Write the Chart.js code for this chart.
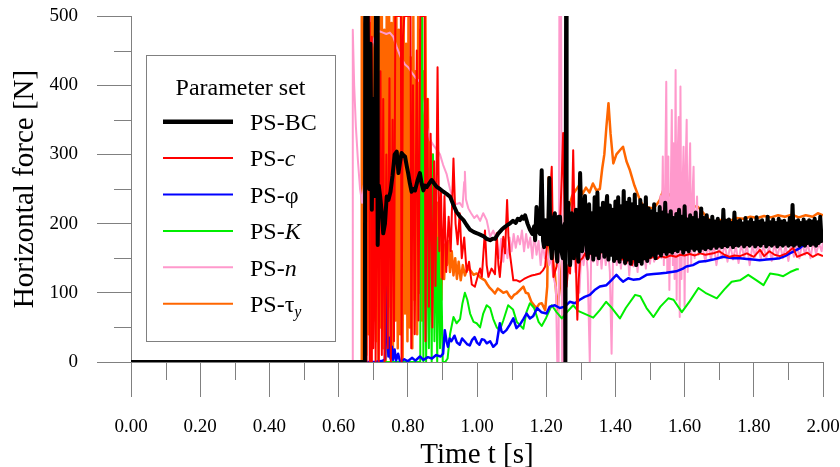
<!DOCTYPE html>
<html>
<head>
<meta charset="utf-8">
<title>Horizontal force</title>
<script src="https://cdn.jsdelivr.net/npm/chart.js@4"></script>
<style>
  html, body { margin: 0; padding: 0; background: #fff; }
  canvas { display: block; }
</style>
</head>
<body>
<canvas id="forceChart" width="840" height="467"></canvas>
<script>
// Series names and colours
const seriesNames = ['PS-BC', 'PS-c', 'PS-φ', 'PS-K', 'PS-n', 'PS-τy'];
const seriesColors = ['#000000', '#ff0000', '#0000ff', '#00ee00', '#ff99cc', '#ff6600'];
const legendTitle = 'Parameter set';

// Axis ticks
const xTicks = [0, 0.2, 0.4, 0.6, 0.8, 1.0, 1.2, 1.4, 1.6, 1.8, 2.0];
const xMinorTicks = [0.1, 0.3, 0.5, 0.7, 0.9, 1.1, 1.3, 1.5, 1.7, 1.9];
const yTicks = [0, 100, 200, 300, 400, 500];
const yMinorTicks = [50, 150, 250, 350, 450];

// [time s, force N]
const psBC = [
  [0,0],[0.676,0],[0.677,500],[0.684,500],[0.688,250],[0.692,460],[0.696,220],[0.700,380],[0.704,240],[0.708,500],[0.711,500],[0.713,169],
  [0.716,255],[0.720,240],[0.725,215],[0.729,186],[0.734,200],[0.739,239],[0.744,234],[0.750,246],[0.756,270],[0.762,300],[0.768,304],
  [0.773,273],[0.778,290],[0.782,302],[0.787,299],[0.792,297],[0.797,283],[0.801,273],[0.806,258],[0.811,246],[0.816,250],[0.821,248],
  [0.828,262],[0.835,273],[0.840,258],[0.845,248],[0.850,255],[0.855,253],[0.862,258],[0.869,263],[0.876,258],[0.884,253],[0.893,250],
  [0.903,246],[0.912,243],[0.922,239],[0.931,228],[0.941,217],[0.951,210],[0.961,205],[0.970,198],[0.980,191],[0.990,188],[1.000,186],
  [1.009,184],[1.018,182],[1.028,178],[1.038,176],[1.045,178],[1.052,178],[1.062,186],[1.071,191],[1.080,195],[1.088,198],[1.095,200],
  [1.104,204],[1.112,201],[1.118,207],[1.124,205],[1.130,210],[1.134,207],[1.139,212],[1.146,200],[1.153,191],[1.160,185],[1.165,196],
  [1.168,176],[1.172,224],[1.176,190],[1.182,185],[1.187,277],[1.191,175],[1.194,166],[1.198,205],[1.201,200],[1.205,170],[1.209,266],
  [1.212,180],[1.216,150],[1.220,205],[1.225,215],[1.228,165],[1.232,145],[1.236,210],[1.240,210],[1.244,160],[1.248,150],[1.251,195],
  [1.254,200],[1.2555,0],[1.2575,500],[1.259,210],[1.264,230],[1.269,140],[1.274,215],[1.280,150],[1.286,220],[1.290,165],[1.293,145],
  [1.298,273],[1.304,160],[1.308,210],[1.312,240],[1.316,170],
  [1.320,150],[1.324,228],[1.328,158],[1.332,215],[1.336,148],[1.340,238],[1.344,155],[1.348,245],[1.352,150],[1.356,222],[1.360,160],
  [1.364,230],[1.368,152],[1.372,218],[1.376,240],[1.380,148],[1.384,226],[1.388,155],[1.392,220],[1.396,146],[1.400,232],[1.404,150],
  [1.408,238],[1.412,145],[1.416,225],[1.420,152],[1.424,247],[1.428,143],[1.432,230],[1.436,148],[1.440,236],[1.444,142],[1.448,228],
  [1.452,150],[1.456,242],[1.460,140],[1.464,224],[1.468,146],[1.472,234],[1.476,142],[1.480,226],[1.484,150],[1.488,238],[1.492,146],
  [1.496,222],[1.500,152],[1.504,218],[1.508,155],[1.512,228],[1.516,150],[1.520,214],[1.524,158],[1.528,224],[1.532,154],[1.536,216],
  [1.540,160],[1.544,230],[1.548,156],[1.552,212],[1.556,160],[1.560,218],[1.564,158],[1.568,208],[1.572,162],[1.576,214],[1.580,160],
  [1.584,220],[1.588,164],[1.592,210],[1.596,158],[1.600,225],[1.604,163],[1.608,206],[1.612,160],[1.616,212],[1.620,165],[1.624,208],
  [1.628,162],[1.632,216],[1.636,164],[1.640,205],[1.644,160],[1.648,222],[1.652,165],[1.656,208],[1.660,163],[1.664,212],[1.668,166],
  [1.672,204],[1.676,164],[1.680,210],[1.684,168],[1.688,203],[1.692,165],[1.696,207],[1.700,168],[1.704,202],[1.708,166],[1.712,220],
  [1.716,169],[1.720,204],[1.724,167],[1.728,206],[1.732,170],[1.736,201],[1.740,166],[1.744,216],[1.748,169],[1.752,203],[1.756,168],
  [1.760,205],[1.764,171],[1.768,200],[1.772,167],[1.776,208],[1.780,170],[1.784,202],[1.788,168],[1.792,206],[1.796,171],[1.800,201],
  [1.804,167],[1.808,209],[1.812,170],[1.816,203],[1.820,168],[1.824,205],[1.828,172],[1.832,200],[1.836,167],[1.840,210],[1.844,170],
  [1.848,202],[1.852,168],[1.856,206],[1.860,171],[1.864,201],[1.868,167],[1.872,207],[1.876,170],[1.880,203],[1.884,168],[1.888,204],
  [1.892,171],[1.896,200],[1.900,168],[1.904,208],[1.908,170],[1.912,227],[1.916,168],[1.920,203],[1.924,171],[1.928,205],[1.932,168],
  [1.936,201],[1.940,170],[1.944,206],[1.948,168],[1.952,202],[1.956,172],[1.960,205],[1.964,169],[1.968,203],[1.972,171],[1.976,207],
  [1.980,168],[1.984,202],[1.988,172],[1.992,210],[1.996,175],[2.000,188]
];

const psC = [
  [0,0],[0.680,0],[0.681,500],[0.688,500],[0.690,0],[0.694,0],[0.696,470],[0.700,20],[0.704,330],[0.707,0],[0.712,390],[0.716,0],
  [0.721,420],[0.725,10],[0.729,380],[0.733,0],[0.738,300],[0.742,20],[0.747,410],[0.751,0],[0.756,350],[0.760,30],[0.764,500],
  [0.780,500],[0.782,0],[0.786,470],[0.790,500],[0.808,500],[0.810,20],[0.815,400],[0.820,40],[0.826,450],[0.831,60],[0.836,500],
  [0.849,500],[0.851,30],[0.856,380],[0.861,80],[0.866,330],[0.871,50],[0.876,290],[0.880,110],[0.886,426],[0.891,160],[0.896,250],
  [0.900,120],[0.906,240],[0.911,130],[0.918,210],[0.924,160],[0.932,294],[0.938,200],[0.944,170],[0.950,215],[0.956,150],[0.963,180],
  [0.970,130],[0.977,145],[0.985,112],[0.994,109],[1.000,120],[1.009,135],[1.014,123],[1.023,190],[1.028,140],[1.033,123],[1.042,135],
  [1.052,127],[1.057,186],[1.062,140],[1.066,123],[1.072,160],[1.076,181],[1.081,157],[1.087,234],[1.091,180],[1.095,157],[1.105,118],
  [1.115,118],[1.124,116],[1.136,120],[1.148,123],[1.158,125],[1.168,126],[1.182,128],[1.190,132],[1.197,138],[1.206,190],[1.216,282],
  [1.221,123],[1.230,138],[1.240,200],[1.245,268],[1.249,331],[1.254,186],[1.259,109],[1.264,140],[1.269,128],[1.274,200],[1.278,306],
  [1.282,200],[1.286,138],[1.290,61],[1.294,120],[1.298,147],[1.305,150],[1.312,157],[1.320,148],[1.328,160],[1.336,152],[1.346,162],
  [1.355,155],[1.365,166],[1.375,158],[1.384,157],[1.394,165],[1.403,162],[1.413,157],[1.420,148],[1.426,160],[1.432,143],[1.440,156],
  [1.448,140],[1.455,152],[1.462,145],[1.470,153],[1.480,148],[1.490,152],[1.500,150],[1.510,152],[1.520,149],[1.530,153],[1.545,151],
  [1.560,154],[1.575,152],[1.587,155],[1.600,154],[1.615,156],[1.630,154],[1.645,157],[1.660,155],[1.683,157],[1.700,160],[1.715,155],
  [1.730,152],[1.745,154],[1.760,153],[1.780,157],[1.800,152],[1.818,162],[1.830,153],[1.845,160],[1.860,155],[1.875,153],[1.895,157],
  [1.914,165],[1.925,152],[1.940,155],[1.955,158],[1.970,152],[1.985,156],[2.000,153]
];

const psPhi = [
  [0,0],[0.705,0],[0.728,2],[0.734,4],[0.736,60],[0.739,140],[0.741,40],[0.744,8],[0.747,35],[0.750,5],[0.754,22],[0.757,3],[0.762,18],
  [0.766,2],[0.772,12],[0.778,0],[0.790,4],[0.800,1],[0.812,6],[0.822,2],[0.835,8],[0.845,3],[0.858,7],[0.870,5],[0.882,10],[0.895,8],
  [0.902,12],[0.907,46],[0.912,30],[0.916,22],[0.921,34],[0.926,30],[0.935,38],[0.942,28],[0.950,25],[0.957,34],[0.964,30],[0.971,26],
  [0.979,24],[0.986,32],[0.993,36],[1.000,28],[1.007,25],[1.014,33],[1.021,32],[1.028,27],[1.038,30],[1.047,22],[1.057,27],[1.066,56],
  [1.071,44],[1.076,42],[1.085,46],[1.095,54],[1.105,63],[1.114,49],[1.124,54],[1.134,62],[1.143,70],[1.153,63],[1.162,66],[1.174,78],
  [1.186,72],[1.201,70],[1.210,80],[1.225,82],[1.239,78],[1.254,80],[1.268,87],[1.283,85],[1.297,90],[1.311,94],[1.326,97],[1.340,104],
  [1.355,109],[1.374,111],[1.388,118],[1.403,126],[1.412,121],[1.422,116],[1.437,121],[1.451,119],[1.470,120],[1.490,126],[1.510,127],
  [1.528,128],[1.547,129],[1.576,131],[1.595,135],[1.605,138],[1.624,140],[1.643,145],[1.663,146],[1.682,148],[1.697,150],[1.711,152],
  [1.740,150],[1.760,150],[1.780,149],[1.798,148],[1.817,147],[1.837,148],[1.856,149],[1.875,150],[1.890,153],[1.904,157],[1.924,162],
  [1.934,165],[1.943,169],[1.948,167]
];

const psK = [
  [0,0],[0.836,0],[0.839,500],[0.842,500],[0.845,0],[0.849,330],[0.853,0],[0.857,280],[0.861,20],[0.865,250],[0.869,0],[0.873,300],
  [0.877,30],[0.881,220],[0.885,0],[0.889,180],[0.893,20],[0.897,120],[0.901,0],[0.908,0],[0.915,5],[0.922,40],[0.932,65],[0.941,56],
  [0.951,62],[0.958,85],[0.965,100],[0.972,90],[0.980,70],[0.990,58],[0.999,56],[1.009,50],[1.018,70],[1.028,82],[1.038,78],[1.047,62],
  [1.057,50],[1.066,46],[1.076,60],[1.090,82],[1.104,76],[1.115,58],[1.134,48],[1.143,72],[1.153,85],[1.165,78],[1.178,58],[1.187,52],
  [1.200,64],[1.216,82],[1.230,72],[1.245,63],[1.260,72],[1.278,82],[1.292,74],[1.310,70],[1.336,64],[1.355,75],[1.373,87],[1.390,78],
  [1.413,63],[1.430,78],[1.457,97],[1.472,95],[1.490,78],[1.510,65],[1.530,80],[1.553,92],[1.568,90],[1.592,72],[1.615,88],[1.640,107],
  [1.660,100],[1.693,92],[1.715,105],[1.736,116],[1.760,118],[1.784,126],[1.808,118],[1.828,111],[1.847,128],[1.870,126],[1.885,124],
  [1.905,130],[1.924,134],[1.930,134]
];

const psN = [
  [0,0],[0.639,0],[0.641,480],[0.645,400],[0.650,340],[0.656,290],[0.662,250],[0.668,230],[0.674,260],[0.680,330],[0.688,420],[0.698,460],
  [0.708,475],[0.718,478],[0.728,476],[0.738,474],[0.748,476],[0.758,470],[0.768,455],[0.780,440],[0.792,430],[0.801,426],[0.812,418],
  [0.824,410],[0.835,405],[0.845,370],[0.855,340],[0.864,321],[0.876,312],[0.886,305],[0.893,300],[0.902,285],[0.912,272],[0.922,250],
  [0.931,234],[0.940,228],[0.950,230],[0.958,224],[0.963,260],[0.965,275],[0.968,235],[0.975,222],[0.983,215],[0.992,208],[1.000,212],
  [1.009,204],[1.018,215],[1.028,205],[1.038,181],[1.047,190],[1.057,175],[1.064,150],[1.070,178],[1.076,145],[1.082,172],[1.088,150],
  [1.094,180],[1.100,160],[1.106,185],[1.112,165],[1.118,182],[1.124,170],[1.130,190],[1.136,160],[1.142,185],[1.148,165],[1.154,180],
  [1.160,150],[1.166,185],[1.172,155],[1.178,175],[1.184,140],[1.190,170],[1.196,150],[1.202,165],[1.208,140],[1.214,150],[1.220,125],
  [1.228,108],[1.232,0],[1.236,0],[1.238,500],[1.243,500],[1.246,0],[1.249,0],[1.252,200],[1.260,160],[1.266,180],[1.272,140],[1.278,175],
  [1.284,130],[1.290,160],[1.296,100],[1.302,165],[1.308,140],[1.314,170],[1.320,130],[1.326,0],[1.330,160],[1.336,145],[1.342,175],
  [1.348,140],[1.354,170],[1.360,135],[1.366,175],[1.372,140],[1.378,168],[1.384,130],[1.389,12],[1.393,150],[1.398,178],[1.404,140],
  [1.410,172],[1.416,135],[1.422,168],[1.428,140],[1.434,175],[1.440,125],[1.446,168],[1.452,138],[1.458,172],[1.464,130],[1.470,165],
  [1.476,140],[1.482,170],[1.488,135],[1.494,168],[1.500,142],[1.506,170],[1.512,145],[1.518,172],[1.524,150],[1.530,240],[1.533,150],
  [1.537,297],[1.540,140],[1.544,260],[1.547,405],[1.550,130],[1.553,297],[1.556,104],[1.559,200],[1.563,364],[1.566,140],[1.568,316],
  [1.571,120],[1.574,422],[1.577,90],[1.580,300],[1.583,354],[1.586,65],[1.588,398],[1.591,120],[1.594,250],[1.597,311],[1.600,80],
  [1.603,280],[1.606,350],[1.609,130],[1.612,240],[1.616,316],[1.619,140],[1.622,230],[1.626,282],[1.629,150],[1.632,200],[1.636,239],
  [1.640,155],[1.644,210],[1.652,165],[1.660,145],[1.668,172],[1.676,148],[1.684,170],[1.692,140],[1.700,168],[1.708,150],[1.716,172],
  [1.724,145],[1.732,170],[1.740,148],[1.748,168],[1.756,143],[1.764,172],[1.772,150],[1.780,170],[1.788,140],[1.796,168],[1.804,152],
  [1.812,172],[1.820,148],[1.828,170],[1.836,150],[1.844,168],[1.852,146],[1.860,172],[1.868,152],[1.876,170],[1.884,150],[1.892,168],
  [1.900,146],[1.908,172],[1.916,152],[1.924,170],[1.932,150],[1.940,173],[1.948,155],[1.956,172],[1.964,150],[1.972,175],[1.980,156],
  [1.988,172],[1.996,160],[2.000,175]
];

const psTau = [
  [0,0],[0.665,0],[0.667,500],[0.670,480],[0.673,20],[0.676,500],[0.680,10],[0.683,500],[0.687,40],[0.690,490],[0.694,0],[0.697,500],
  [0.701,60],[0.704,500],[0.708,30],[0.711,470],[0.715,0],[0.718,500],[0.722,50],[0.725,500],[0.729,20],[0.732,480],[0.736,0],[0.739,500],
  [0.743,80],[0.746,500],[0.750,30],[0.753,490],[0.757,10],[0.760,500],[0.764,60],[0.767,500],[0.771,20],[0.774,480],[0.778,40],[0.781,500],
  [0.785,0],[0.788,500],[0.792,70],[0.795,460],[0.799,30],[0.802,500],[0.806,50],[0.809,440],[0.813,20],[0.816,500],[0.820,90],[0.823,420],
  [0.827,40],[0.830,500],[0.834,100],[0.837,480],[0.841,60],[0.844,420],[0.848,120],[0.851,500],[0.855,80],[0.858,380],[0.862,140],
  [0.865,320],[0.869,110],[0.872,300],[0.876,150],[0.879,260],[0.883,100],[0.886,230],[0.890,130],[0.893,200],[0.897,90],[0.901,180],
  [0.905,120],[0.909,170],[0.913,140],[0.917,175],[0.922,130],[0.927,160],[0.932,125],[0.937,150],[0.942,120],[0.947,145],[0.953,118],
  [0.959,140],[0.965,125],[0.972,135],[0.980,133],[0.990,126],[0.999,128],[1.010,122],[1.023,118],[1.030,112],[1.037,107],[1.045,103],
  [1.052,99],[1.060,106],[1.066,104],[1.076,100],[1.086,102],[1.093,96],[1.100,92],[1.107,97],[1.114,99],[1.124,104],[1.134,109],
  [1.141,100],[1.148,99],[1.157,87],[1.165,82],[1.172,78],[1.180,84],[1.187,85],[1.197,75],[1.203,109],[1.207,267],[1.211,253],
  [1.216,157],[1.225,128],[1.232,75],[1.240,110],[1.250,170],[1.258,215],[1.265,222],[1.275,240],[1.285,248],[1.295,255],[1.305,243],
  [1.315,252],[1.325,245],[1.335,258],[1.345,248],[1.355,250],[1.362,280],[1.368,300],[1.374,340],[1.380,374],[1.386,330],[1.394,287],
  [1.403,300],[1.413,306],[1.422,311],[1.432,290],[1.442,277],[1.455,255],[1.471,234],[1.480,226],[1.490,224],[1.500,223],[1.510,222],
  [1.520,228],[1.528,234],[1.538,248],[1.548,245],[1.560,240],[1.580,235],[1.600,230],[1.620,226],[1.639,224],[1.655,215],[1.672,205],
  [1.691,203],[1.710,206],[1.730,204],[1.750,208],[1.770,207],[1.790,210],[1.810,208],[1.830,211],[1.850,209],[1.870,212],[1.890,210],
  [1.910,213],[1.930,209],[1.950,212],[1.970,210],[1.985,215],[2.000,212]
];

const seriesData = [psBC, psC, psPhi, psK, psN, psTau];
const seriesWidths = [4, 2, 2.5, 2, 2, 2.5];

const FONT = "'Liberation Serif', 'Times New Roman', serif";

// Legend text pieces: [text, style] with style n = normal, i = italic, sub = italic subscript
const legendParts = [
  [['PS-BC', 'n']],
  [['PS-', 'n'], ['c', 'i']],
  [['PS-φ', 'n']],
  [['PS-', 'n'], ['K', 'i']],
  [['PS-', 'n'], ['n', 'i']],
  [['PS-τ', 'n'], ['y', 'sub']]
];

// Short minor ticks on both axes
const minorTicks = {
  id: 'minorTicks',
  afterDraw(chart) {
    const { ctx, scales: { x, y }, chartArea } = chart;
    ctx.save();
    ctx.strokeStyle = '#808080';
    ctx.lineWidth = 1;
    ctx.beginPath();
    xMinorTicks.forEach(v => {
      const px = Math.round(x.getPixelForValue(v)) + 0.5;
      ctx.moveTo(px, chartArea.bottom);
      ctx.lineTo(px, chartArea.bottom + 18);
    });
    yMinorTicks.forEach(v => {
      const py = Math.round(y.getPixelForValue(v)) + 0.5;
      ctx.moveTo(chartArea.left - 17, py);
      ctx.lineTo(chartArea.left, py);
    });
    ctx.stroke();
    ctx.restore();
  }
};

// Boxed legend inside the plot
const paramLegend = {
  id: 'paramLegend',
  afterDraw(chart) {
    const ctx = chart.ctx;
    const box = { x: 146, y: 55, w: 189, h: 286 };
    ctx.save();
    ctx.fillStyle = '#ffffff';
    ctx.fillRect(box.x, box.y, box.w, box.h);
    ctx.strokeStyle = '#808080';
    ctx.lineWidth = 1;
    ctx.strokeRect(box.x + 0.5, box.y + 0.5, box.w, box.h);

    ctx.fillStyle = '#000';
    ctx.textBaseline = 'alphabetic';
    ctx.textAlign = 'center';
    ctx.font = `24px ${FONT}`;
    ctx.fillText(legendTitle, box.x + box.w / 2, 95);

    ctx.textAlign = 'left';
    seriesNames.forEach((name, i) => {
      const ly = 121.7 + 36.4 * i;
      ctx.strokeStyle = seriesColors[i];
      ctx.lineWidth = i === 0 ? 4.5 : 2;
      ctx.beginPath();
      ctx.moveTo(163, ly);
      ctx.lineTo(233, ly);
      ctx.stroke();

      let tx = 250;
      const base = ly + 8.3;
      legendParts[i].forEach(([text, style]) => {
        if (style === 'sub') {
          ctx.font = `italic 16px ${FONT}`;
          ctx.fillText(text, tx, base + 5);
        } else {
          ctx.font = `${style === 'i' ? 'italic ' : ''}24px ${FONT}`;
          ctx.fillText(text, tx, base);
        }
        tx += ctx.measureText(text).width;
      });
    });
    ctx.restore();
  }
};

const datasets = seriesNames.map((name, i) => ({
  label: name,
  data: seriesData[i].map(([t, f]) => ({ x: t, y: f })),
  borderColor: seriesColors[i],
  backgroundColor: seriesColors[i],
  borderWidth: seriesWidths[i],
  pointRadius: 0,
  tension: 0,
  borderJoinStyle: 'round',
  fill: false
}));

new Chart(document.getElementById('forceChart'), {
  type: 'line',
  data: { datasets },
  plugins: [minorTicks, paramLegend],
  options: {
    responsive: false,
    animation: false,
    devicePixelRatio: 1,
    layout: { padding: { top: 16, right: 17, left: 0, bottom: 0 } },
    plugins: {
      legend: { display: false },
      tooltip: { enabled: false }
    },
    scales: {
      x: {
        type: 'linear',
        min: 0,
        max: 2,
        afterFit: s => {
          s.height = 105;
          s.paddingLeft = 0;
          s.paddingRight = 0;
        },
        afterBuildTicks: s => { s.ticks = xTicks.map(v => ({ value: v })); },
        ticks: {
          callback: v => Number(v).toFixed(2),
          font: { family: FONT, size: 19 },
          color: '#000',
          padding: 19,
          maxRotation: 0,
          autoSkip: false
        },
        grid: { drawOnChartArea: false, drawTicks: true, tickLength: 35, color: '#808080' },
        border: { color: '#808080', width: 1 },
        title: {
          display: true,
          text: 'Time t [s]',
          color: '#000',
          font: { family: FONT, size: 29, lineHeight: 0.8 },
          padding: 0
        }
      },
      y: {
        min: 0,
        max: 500,
        afterFit: s => {
          s.width = 131;
          s.paddingTop = 0;
          s.paddingBottom = 0;
        },
        afterBuildTicks: s => { s.ticks = yTicks.map(v => ({ value: v })); },
        ticks: {
          font: { family: FONT, size: 19 },
          color: '#000',
          padding: 19
        },
        grid: { drawOnChartArea: false, drawTicks: true, tickLength: 34, color: '#808080' },
        border: { color: '#808080', width: 1 },
        title: {
          display: true,
          text: 'Horizontal force [N]',
          color: '#000',
          font: { family: FONT, size: 29 },
          padding: { top: 7.6, bottom: 0 }
        }
      }
    }
  }
});
</script>
</body>
</html>
